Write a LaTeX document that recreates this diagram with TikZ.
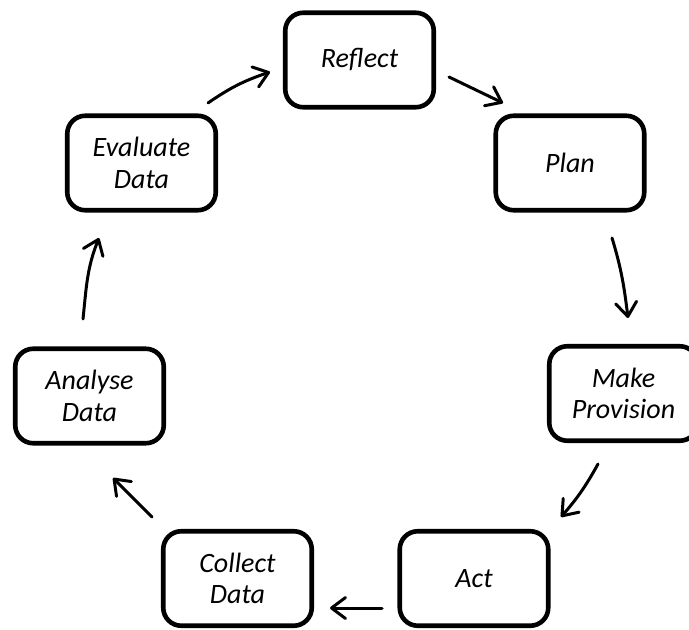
\documentclass[tikz,border=0pt]{standalone}
\usepackage{fontspec}
\setmainfont{Carlito}
\usetikzlibrary{arrows.meta}

\begin{document}
\begin{tikzpicture}[x=0.5pt,y=0.5pt,
  stage/.style={draw=black, line width=2.3pt, rounded corners=9pt,
    minimum width=74.25pt, minimum height=47.25pt, align=center,
    font=\fontsize{14pt}{15.8pt}\selectfont\itshape, inner sep=0pt},
  flow/.style={line width=1.5pt, line cap=round,
    -{Straight Barb[length=7pt,width=10.5pt,line cap=round,line join=round]}}]
  \useasboundingbox (0,0) rectangle (689,-630);

  % the seven stages of the cycle
  \node[stage] (refl) at (359.5,-60)   {Reflect};
  \node[stage] (plan) at (570,-163)    {Plan};
  \node[stage] (make) at (623.5,-393.5){Make\\Provision};
  \node[stage] (act)  at (474,-578.5)  {Act};
  \node[stage] (coll) at (237.5,-578.5){Collect\\Data};
  \node[stage] (anal) at (89.5,-396)   {Analyse\\Data};
  \node[stage] (eval) at (141.5,-163)  {Evaluate\\Data};

  % arrows running clockwise round the cycle
  \draw[flow] ([shift={(66.5,60)}]eval.center) to[bend left=8]
              ([shift={(-89.5,-12)}]refl.center);
  \draw[flow] ([shift={(89.5,-17)}]refl.center) --
              ([shift={(-67,60)}]plan.center);
  \draw[flow] ([shift={(42,-75)}]plan.center) to[out=-73,in=97]
              ([shift={(4.5,75.5)}]make.center);
  \draw[flow] ([shift={(-25.5,-70.5)}]make.center) to[bend left=6]
              ([shift={(87,61.5)}]act.center);
  \draw[flow] ([shift={(-92,-29.5)}]act.center) --
              ([shift={(92.5,-29.5)}]coll.center);
  \draw[flow] ([shift={(-85.5,61.5)}]coll.center) --
              ([shift={(23.5,-82)}]anal.center);
  \draw[flow] ([shift={(-6.5,77)}]anal.center) to[out=84,in=248]
              ([shift={(-42.5,-75)}]eval.center);
\end{tikzpicture}
\end{document}
